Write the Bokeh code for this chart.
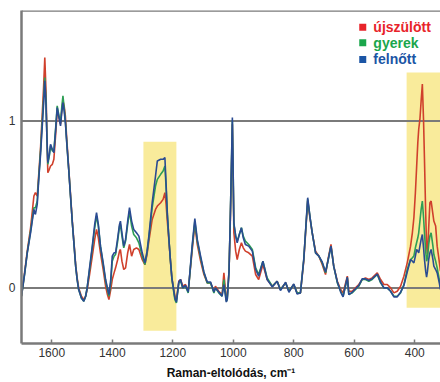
from bokeh.plotting import figure
from bokeh.models import Range1d, Span, BoxAnnotation, Label, FixedTicker
from bokeh.embed import file_html
from bokeh.resources import INLINE

wavenumber = [1700, 1690, 1681, 1670, 1659, 1654, 1648, 1643, 1637, 1632, 1627, 1623, 1619, 1616, 1613,
              1608, 1604, 1598, 1593, 1587, 1582, 1576, 1571, 1567, 1563, 1559, 1555, 1550, 1544, 1538,
              1532, 1526, 1521, 1516, 1511, 1502, 1494, 1488, 1483, 1475, 1466, 1458, 1452, 1446, 1439,
              1430, 1422, 1416, 1411, 1405, 1400, 1394, 1389, 1382, 1376, 1373, 1368, 1362, 1356, 1349,
              1343, 1336, 1329, 1320, 1312, 1301, 1292, 1285, 1279, 1268, 1257, 1251, 1240, 1232, 1226,
              1222, 1218, 1213, 1208, 1203, 1198, 1193, 1188, 1180, 1174, 1167, 1158, 1149, 1136, 1127,
              1119, 1108, 1097, 1086, 1075, 1064, 1059, 1048, 1037, 1031, 1023, 1020, 1014, 1010, 1006,
              1003, 1000, 998, 992, 987, 980, 973, 967, 960, 949, 937, 926, 916, 902, 888,
              871, 855, 844, 827, 816, 800, 789, 778, 767, 754, 746, 739, 728, 717, 706,
              695, 686, 677, 668, 656, 645, 637, 623, 618, 607, 596, 585, 574, 563, 552,
              541, 524, 513, 502, 491, 480, 469, 458, 447, 436, 425, 414, 408, 403, 398,
              394, 390, 387, 383, 379, 375, 371, 368, 364, 361, 358, 354, 350, 346, 340,
              337, 331, 326, 320, 315]

felnott = [-0.05, 0.08, 0.21, 0.33, 0.47, 0.44, 0.50, 0.65, 0.80, 0.95, 1.10, 1.24, 1.10, 0.90, 0.75,
           0.80, 0.86, 0.83, 0.81, 0.95, 1.08, 1.02, 0.97, 1.05, 1.11, 1.06, 0.99, 0.86, 0.71, 0.55,
           0.39, 0.25, 0.13, 0.05, -0.01, -0.06, -0.08, -0.05, 0.00, 0.12, 0.25, 0.38, 0.45, 0.38, 0.25,
           0.15, 0.05, 0.00, -0.04, 0.05, 0.19, 0.21, 0.21, 0.30, 0.38, 0.40, 0.33, 0.25, 0.29, 0.40,
           0.48, 0.40, 0.35, 0.33, 0.31, 0.21, 0.15, 0.22, 0.31, 0.51, 0.67, 0.76, 0.77, 0.77, 0.78,
           0.62, 0.45, 0.30, 0.17, 0.06, 0.00, -0.06, -0.085, 0.035, 0.05, 0.00, 0.015, -0.025, 0.25, 0.415,
           0.29, 0.19, 0.095, 0.035, 0.035, -0.025, 0.00, -0.025, -0.05, 0.02, -0.085, -0.07, 0.10, 0.40, 0.75,
           1.02, 0.65, 0.39, 0.31, 0.27, 0.32, 0.36, 0.30, 0.26, 0.25, 0.22, 0.11, 0.07, 0.16, 0.05,
           0.006, 0.04, -0.016, 0.034, -0.026, 0.024, -0.036, -0.03, 0.17, 0.54, 0.42, 0.33, 0.21, 0.19, 0.155,
           0.095, 0.17, 0.25, 0.13, 0.035, -0.025, -0.054, 0.064, -0.04, -0.026, -0.006, 0.014, 0.054, 0.054, 0.044,
           0.054, 0.083, 0.034, 0.0, 0.0, -0.02, -0.054, -0.054, -0.026, 0.014, 0.095, 0.17, 0.16, 0.15, 0.19,
           0.23, 0.22, 0.21, 0.25, 0.29, 0.32, 0.24, 0.17, 0.10, 0.064, 0.10, 0.17, 0.21, 0.23, 0.17,
           0.13, 0.11, 0.09, 0.04, -0.01]

gyerek = [-0.05, 0.08, 0.21, 0.34, 0.48, 0.48, 0.52, 0.66, 0.82, 0.98, 1.13, 1.26, 1.12, 0.90, 0.74,
          0.79, 0.85, 0.82, 0.82, 0.96, 1.09, 1.03, 0.99, 1.08, 1.15, 1.08, 1.00, 0.86, 0.71, 0.55,
          0.39, 0.25, 0.13, 0.05, -0.01, -0.06, -0.08, -0.05, 0.00, 0.11, 0.24, 0.36, 0.43, 0.37, 0.25,
          0.14, 0.04, -0.01, -0.05, 0.03, 0.16, 0.19, 0.20, 0.28, 0.37, 0.38, 0.31, 0.24, 0.28, 0.38,
          0.46, 0.37, 0.32, 0.30, 0.27, 0.19, 0.14, 0.21, 0.30, 0.48, 0.61, 0.65, 0.68, 0.70, 0.73,
          0.60, 0.44, 0.30, 0.17, 0.06, -0.01, -0.07, -0.09, 0.03, 0.04, 0.00, 0.01, -0.03, 0.24, 0.40,
          0.28, 0.18, 0.09, 0.03, 0.03, -0.03, 0.00, -0.03, -0.05, 0.05, -0.08, -0.07, 0.10, 0.40, 0.74,
          1.00, 0.64, 0.38, 0.31, 0.28, 0.32, 0.36, 0.31, 0.28, 0.26, 0.23, 0.12, 0.08, 0.16, 0.06,
          0.01, 0.04, -0.01, 0.03, -0.02, 0.02, -0.03, -0.03, 0.17, 0.53, 0.42, 0.33, 0.21, 0.19, 0.15,
          0.09, 0.17, 0.25, 0.13, 0.03, -0.02, -0.05, 0.06, -0.04, -0.03, -0.01, 0.01, 0.05, 0.05, 0.04,
          0.05, 0.08, 0.03, 0.00, 0.00, -0.02, -0.05, -0.05, -0.03, 0.02, 0.11, 0.17, 0.18, 0.19, 0.24,
          0.27, 0.30, 0.33, 0.40, 0.47, 0.52, 0.42, 0.33, 0.22, 0.16, 0.18, 0.26, 0.31, 0.33, 0.25,
          0.20, 0.16, 0.12, 0.06, 0.00]

ujszulott = [-0.05, 0.09, 0.22, 0.36, 0.55, 0.57, 0.55, 0.68, 0.84, 1.02, 1.20, 1.38, 1.18, 0.92, 0.69,
             0.71, 0.73, 0.74, 0.77, 0.92, 1.06, 1.02, 0.98, 1.06, 1.12, 1.09, 1.03, 0.88, 0.72, 0.56,
             0.40, 0.26, 0.14, 0.06, 0.00, -0.05, -0.07, -0.05, -0.01, 0.08, 0.19, 0.29, 0.35, 0.30, 0.21,
             0.11, 0.01, -0.04, -0.07, -0.01, 0.05, 0.09, 0.12, 0.17, 0.22, 0.23, 0.16, 0.11, 0.12, 0.21,
             0.26, 0.19, 0.23, 0.24, 0.23, 0.17, 0.14, 0.20, 0.28, 0.41, 0.47, 0.49, 0.51, 0.53, 0.57,
             0.50, 0.40, 0.29, 0.17, 0.06, 0.00, -0.05, -0.07, 0.04, 0.05, 0.01, 0.02, -0.02, 0.22, 0.38,
             0.26, 0.16, 0.08, 0.03, 0.03, -0.02, 0.01, -0.02, -0.04, 0.09, -0.07, -0.06, 0.10, 0.38, 0.70,
             0.98, 0.60, 0.33, 0.22, 0.17, 0.23, 0.27, 0.24, 0.22, 0.21, 0.19, 0.08, 0.05, 0.14, 0.05,
             0.01, 0.04, -0.01, 0.03, -0.02, 0.02, -0.03, -0.03, 0.16, 0.52, 0.41, 0.33, 0.22, 0.19, 0.14,
             0.08, 0.18, 0.26, 0.13, 0.04, -0.01, -0.03, 0.07, -0.02, -0.02, 0.00, 0.02, 0.05, 0.06, 0.05,
             0.06, 0.09, 0.05, 0.02, 0.02, 0.00, -0.03, -0.02, 0.01, 0.07, 0.15, 0.25, 0.33, 0.42, 0.57,
             0.72, 0.87, 0.95, 1.01, 1.12, 1.22, 1.00, 0.77, 0.45, 0.25, 0.20, 0.36, 0.51, 0.52, 0.44,
             0.40, 0.37, 0.25, 0.17, 0.10]

series_names = ["újszülött", "gyerek", "felnőtt"]
line_colors = ["#d0402c", "#2e9e55", "#2a4b92"]
legend_colors = ["#e8232a", "#1aa64b", "#1b55a5"]
x_ticks = [1600, 1400, 1200, 1000, 800, 600, 400]
y_ticks = [0, 1]
highlight_bands = [(1297, 1188, -0.256, 0.875), (427, 300, -0.119, 1.29)]

GRAY = "#7a7a7a"

p = figure(width=440, height=382, output_backend="svg", toolbar_location=None,
           x_range=Range1d(1700, 315), y_range=Range1d(-0.333, 1.661),
           min_border_left=21, min_border_right=0, min_border_top=10, min_border_bottom=37)
p.grid.visible = False
p.outline_line_color = None
p.background_fill_color = "white"

for (l, r, b, t) in highlight_bands:
    p.add_layout(BoxAnnotation(left=l, right=r, bottom=b, top=t, fill_color="#f9eb9b",
                               fill_alpha=1.0, line_color=None, level="underlay"))

for yv in y_ticks:
    p.add_layout(Span(location=yv, dimension="width", line_color=GRAY, line_width=2, level="underlay"))
p.add_layout(Span(location=1.661, dimension="width", line_color=GRAY, line_width=2.5))

for ys, c in zip([ujszulott, gyerek, felnott], line_colors):
    p.line(wavenumber, ys, line_color=c, line_width=1.6)

xa = p.xaxis[0]
xa.ticker = FixedTicker(ticks=x_ticks)
xa.axis_line_color = GRAY
xa.axis_line_width = 2.5
xa.major_tick_in = 4
xa.major_tick_out = 0
xa.major_tick_line_color = GRAY
xa.major_tick_line_width = 1.5
xa.minor_tick_line_color = None
xa.major_label_text_font = "Liberation Sans"
xa.major_label_text_font_size = "12px"
xa.major_label_text_color = "#333333"
xa.major_label_standoff = 4
xa.axis_label = "Raman-eltolódás, cm\u207b\u00b9"
xa.axis_label_text_font = "Liberation Sans"
xa.axis_label_text_font_style = "bold"
xa.axis_label_text_font_size = "12px"
xa.axis_label_text_color = "#111111"
xa.axis_label_standoff = 6

ya = p.yaxis[0]
ya.ticker = FixedTicker(ticks=y_ticks)
ya.axis_line_color = GRAY
ya.axis_line_width = 2.5
ya.major_tick_in = 0
ya.major_tick_out = 0
ya.minor_tick_line_color = None
ya.major_label_text_font = "Liberation Sans"
ya.major_label_text_font_size = "12px"
ya.major_label_text_color = "#333333"
ya.major_label_standoff = 6

leg_y = [1.560, 1.468, 1.368]
p.scatter(x=[572, 572, 572], y=leg_y, marker="square", size=7, color=legend_colors, line_color=None)
for name, c, yy in zip(series_names, legend_colors, leg_y):
    p.add_layout(Label(x=537, y=yy, text=name, text_color=c, text_font="Liberation Sans",
                       text_font_style="bold", text_font_size="14px", text_baseline="middle"))

open("out.html", "w").write(file_html(p, INLINE))
